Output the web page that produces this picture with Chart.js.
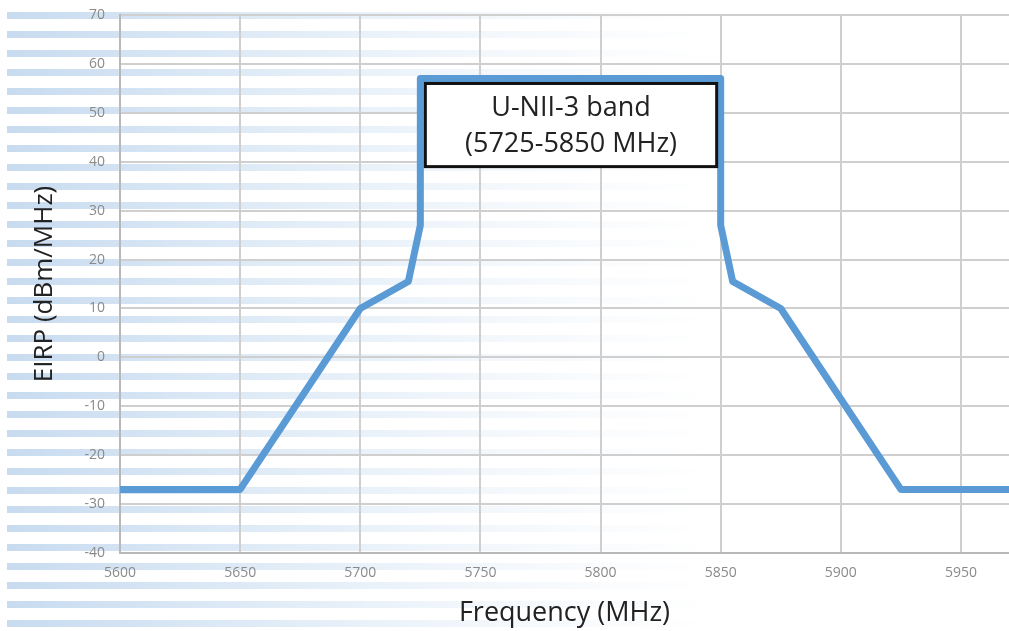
<!DOCTYPE html>
<html>
<head>
<meta charset="utf-8">
<script src="https://cdn.jsdelivr.net/npm/chart.js@4"></script>
<style>
  body { margin: 0; background: #fff; }
  #wrap { width: 1009px; height: 631px; }
</style>
</head>
<body>
<div id="wrap"><canvas id="mask" width="1009" height="631"></canvas></div>
<script>
// ====== U-NII-3 spectral mask ======
const freqs = [5600, 5650, 5700, 5720, 5725, 5725, 5850, 5850, 5855, 5875, 5925, 5970];
const eirp  = [-27, -27, 10, 15.5, 27, 57, 57, 27, 15.5, 10, -27, -27];
const bandLo = 5725, bandHi = 5850;
const boxTop = 56, boxBottom = 39;
const boxLines = ["U-NII-3 band", "(5725-5850 MHz)"];

const FONT = "'Open Sans', sans-serif";

// faded blue stripes behind the whole picture
const stripes = {
  id: "stripes",
  beforeDraw(chart) {
    const c = chart.ctx;
    const g = c.createLinearGradient(0, 0, 720, 0);
    g.addColorStop(0, "rgba(180,206,234,0.75)");
    g.addColorStop(0.35, "rgba(190,214,238,0.5)");
    g.addColorStop(0.7, "rgba(200,220,240,0.2)");
    g.addColorStop(1, "rgba(210,226,242,0)");
    c.save();
    c.fillStyle = g;
    for (let y = 12; y < chart.height; y += 19) {
      c.fillRect(7, y, 720, 7);
    }
    c.restore();
  }
};

// label box sitting inside the band
const bandBox = {
  id: "bandBox",
  afterDatasetsDraw(chart) {
    const c = chart.ctx, xs = chart.scales.x, ys = chart.scales.y;
    const x0 = xs.getPixelForValue(bandLo) + 5, x1 = xs.getPixelForValue(bandHi) - 4;
    const y0 = ys.getPixelForValue(boxTop), y1 = ys.getPixelForValue(boxBottom);
    c.save();
    c.fillStyle = "#fff";
    c.fillRect(x0, y0, x1 - x0, y1 - y0);
    c.lineWidth = 3;
    c.strokeStyle = "#111";
    c.strokeRect(x0, y0, x1 - x0, y1 - y0);
    c.fillStyle = "#222";
    c.font = "27px " + FONT;
    c.textAlign = "center";
    c.textBaseline = "middle";
    const cx = (x0 + x1) / 2, cy = (y0 + y1) / 2;
    c.fillText(boxLines[0], cx, cy - 17);
    c.fillText(boxLines[1], cx, cy + 19);
    c.restore();
  }
};

new Chart(document.getElementById("mask").getContext("2d"), {
  type: "scatter",
  data: {
    datasets: [{
      data: freqs.map((f, i) => ({ x: f, y: eirp[i] })),
      showLine: true,
      borderColor: "#5b9bd5",
      borderWidth: 7,
      borderJoinStyle: "round",
      pointRadius: 0,
      tension: 0
    }]
  },
  options: {
    responsive: false,
    animation: false,
    layout: { padding: { top: 15, right: 0, left: 0, bottom: 0 } },
    plugins: { legend: { display: false }, tooltip: { enabled: false } },
    scales: {
      x: {
        type: "linear",
        min: 5600, max: 5970,
        afterFit: s => { s.height = 78; s.paddingLeft = 0; s.paddingRight = 0; },
        grid: { color: "#cfcfcf", lineWidth: 2, drawTicks: false },
        border: { color: "#b8b8b8", width: 2 },
        ticks: { stepSize: 50, includeBounds: false, padding: 12, color: "#8a8a8a",
                 font: { family: FONT, size: 14 }, callback: v => String(v) },
        title: { display: true, text: "Frequency (MHz)", color: "#222", font: { family: FONT, size: 27 }, padding: { bottom: 1 } }
      },
      y: {
        min: -40, max: 70,
        afterFit: s => { s.width = 120; s.paddingTop = 0; s.paddingBottom = 0; },
        grid: { color: "#cfcfcf", lineWidth: 2, drawTicks: false },
        border: { color: "#b8b8b8", width: 2 },
        ticks: { stepSize: 10, padding: 15, color: "#8a8a8a",
                 font: { family: FONT, size: 14 }, callback: v => String(v) },
        title: { display: true, text: "EIRP (dBm/MHz)", color: "#222", font: { family: FONT, size: 26 }, padding: { top: 29 } }
      }
    }
  },
  plugins: [stripes, bandBox]
});
</script>
</body>
</html>
